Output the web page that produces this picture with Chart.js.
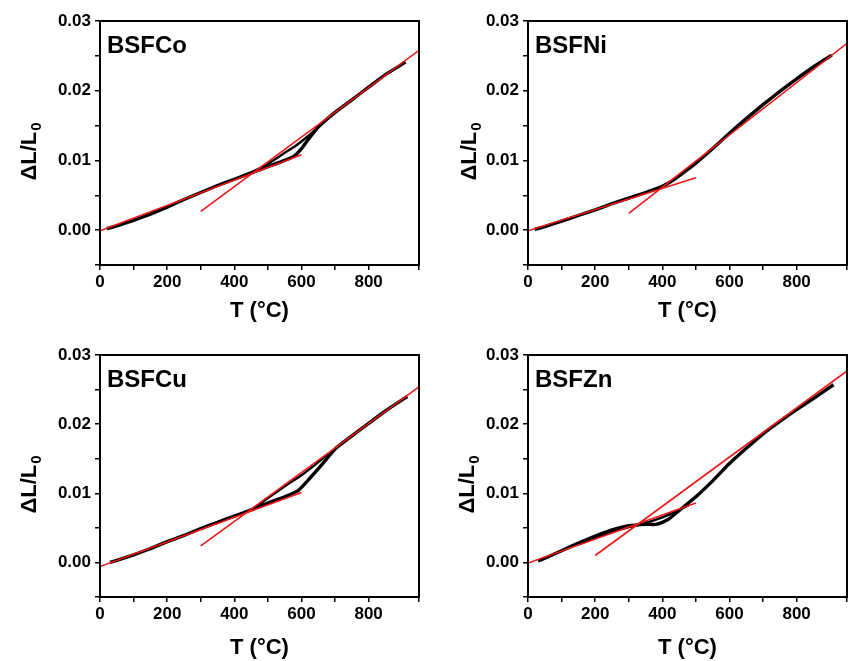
<!DOCTYPE html>
<html>
<head>
<meta charset="utf-8">
<script src="https://cdn.jsdelivr.net/npm/chart.js@4.4.1/dist/chart.umd.min.js"></script>
<style>
  html, body { margin: 0; padding: 0; background: #fff; }
  #wrap { position: relative; width: 851px; height: 661px; overflow: hidden; }
  #wrap canvas { position: absolute; }
</style>
</head>
<body>
<div id="wrap">
  <canvas id="c-co" width="425" height="330" style="left:0;top:0"></canvas>
  <canvas id="c-ni" width="423" height="330" style="left:428px;top:0"></canvas>
  <canvas id="c-cu" width="425" height="331" style="left:0;top:330px"></canvas>
  <canvas id="c-zn" width="423" height="331" style="left:428px;top:330px"></canvas>
</div>
<script>
// Axis settings
const X_MIN = 0, X_MAX = 950;
const Y_MIN = -0.005, Y_MAX = 0.03;

// BSFCo
const coT = [20, 50, 100, 150, 200, 250, 300, 350, 400, 450, 500, 550, 580, 600, 620, 650, 700, 750, 800, 850, 910];
const coDL = [0.0002, 0.0006, 0.0014, 0.0023, 0.0033, 0.0044, 0.0054, 0.0064, 0.0073, 0.0082, 0.0091, 0.0100, 0.0107, 0.0117, 0.0130, 0.0148, 0.0169, 0.0187, 0.0205, 0.0223, 0.0241];
const coLoopT = [650, 620, 580, 550, 500, 450, 430];
const coLoopDL = [0.0148, 0.0135, 0.0120, 0.0111, 0.0095, 0.0083, 0.0079];
const coFitLowT = [0, 600], coFitLow = [-0.0001, 0.0108];
const coFitHighT = [300, 950], coFitHigh = [0.0027, 0.0258];

// BSFNi
const niT = [20, 50, 100, 150, 200, 250, 300, 350, 400, 420, 450, 500, 550, 600, 650, 700, 750, 800, 850, 905];
const niDL = [0.0001, 0.0005, 0.0013, 0.0021, 0.0029, 0.0038, 0.0046, 0.0054, 0.0063, 0.0068, 0.0078, 0.0096, 0.0117, 0.0139, 0.0160, 0.0180, 0.0199, 0.0217, 0.0234, 0.0251];
const niLoopT = [];
const niLoopDL = [];
const niFitLowT = [0, 500], niFitLow = [-0.0001, 0.0075];
const niFitHighT = [300, 950], niFitHigh = [0.0024, 0.0268];

// BSFCu
const cuT = [30, 50, 100, 150, 200, 250, 300, 350, 400, 450, 500, 550, 590, 620, 660, 700, 750, 800, 850, 915];
const cuDL = [0.0000, 0.0003, 0.0011, 0.0020, 0.0030, 0.0039, 0.0049, 0.0058, 0.0067, 0.0076, 0.0086, 0.0095, 0.0104, 0.0119, 0.0141, 0.0164, 0.0183, 0.0201, 0.0219, 0.0240];
const cuLoopT = [680, 640, 600, 550, 500, 460];
const cuLoopDL = [0.0157, 0.0141, 0.0126, 0.0110, 0.0093, 0.0079];
const cuFitLowT = [0, 600], cuFitLow = [-0.0006, 0.0101];
const cuFitHighT = [300, 950], cuFitHigh = [0.0024, 0.0254];

// BSFZn
const znT = [30, 50, 100, 150, 200, 250, 300, 350, 380, 400, 420, 450, 500, 550, 600, 650, 700, 750, 800, 850, 910];
const znDL = [0.0002, 0.0006, 0.0017, 0.0028, 0.0038, 0.0047, 0.0053, 0.0055, 0.0055, 0.0058, 0.0063, 0.0075, 0.0095, 0.0118, 0.0143, 0.0165, 0.0186, 0.0204, 0.0221, 0.0237, 0.0257];
const znLoopT = [480, 450, 400, 350, 300, 250, 200, 150];
const znLoopDL = [0.0083, 0.0076, 0.0065, 0.0057, 0.0051, 0.0044, 0.0035, 0.0026];
const znFitLowT = [0, 500], znFitLow = [-0.0001, 0.0086];
const znFitHighT = [200, 950], znFitHigh = [0.0010, 0.0277];

const FONT = "'Liberation Sans', Arial, sans-serif";
const RED = '#f01414';

function pts(xs, ys) {
    return xs.map((x, i) => ({ x: x, y: ys[i] }));
}

// frame, sample label and the y title with its subscript
const decoPlugin = {
    id: 'deco',
    afterDraw(chart, args, opts) {
        const { ctx, chartArea: a } = chart;
        ctx.save();
        ctx.strokeStyle = '#000';
        ctx.lineWidth = 2;
        ctx.strokeRect(a.left, a.top, a.right - a.left, a.bottom - a.top);

        ctx.fillStyle = '#000';
        ctx.textBaseline = 'alphabetic';
        ctx.textAlign = 'left';
        ctx.font = `bold 24px ${FONT}`;
        ctx.fillText(opts.label, a.left + 7, a.top + 32);

        // y axis title: ΔL/L with subscript 0
        const main = 'ΔL/L', sub = '0';
        ctx.font = `bold 22px ${FONT}`;
        const w1 = ctx.measureText(main).width;
        ctx.font = `bold 15px ${FONT}`;
        const w2 = ctx.measureText(sub).width;
        const cy = (a.top + a.bottom) / 2 + 9;
        ctx.translate(opts.titleX, cy);
        ctx.rotate(-Math.PI / 2);
        const start = -(w1 + w2) / 2;
        ctx.font = `bold 22px ${FONT}`;
        ctx.fillText(main, start, 0);
        ctx.font = `bold 15px ${FONT}`;
        ctx.fillText(sub, start + w1 + 1, 5);
        ctx.restore();
    }
};

function makePanel(id, label, p) {
    const ctx = document.getElementById(id).getContext('2d');
    return new Chart(ctx, {
        type: 'scatter',
        data: {
            datasets: [
                { data: pts(p.fitLowT, p.fitLow), borderColor: RED, borderWidth: 1.6, order: 0 },
                { data: pts(p.fitHighT, p.fitHigh), borderColor: RED, borderWidth: 1.6, order: 0 },
                { data: pts(p.t, p.dl), borderColor: '#000', borderWidth: 3.4, tension: 0.15, order: 1 },
                { data: pts(p.loopT, p.loopDL), borderColor: '#000', borderWidth: 2.4, tension: 0.15, order: 1 }
            ].map(d => Object.assign({ showLine: true, pointRadius: 0, pointHoverRadius: 0, fill: false }, d))
        },
        options: {
            responsive: false,
            animation: false,
            events: [],
            layout: { padding: { top: p.padTop, right: p.padRight, left: 0, bottom: 0 } },
            plugins: {
                legend: { display: false },
                tooltip: { enabled: false },
                deco: { label: label, titleX: p.titleX }
            },
            scales: {
                x: {
                    type: 'linear',
                    position: 'bottom',
                    min: X_MIN,
                    max: X_MAX,
                    afterFit: s => { s.height = p.xHeight; },
                    border: { display: true, color: '#000', width: 2 },
                    grid: { drawOnChartArea: false, drawTicks: true, tickLength: 5, color: '#000', lineWidth: 1.5 },
                    ticks: {
                        stepSize: 100,
                        autoSkip: false,
                        maxRotation: 0,
                        padding: 2,
                        color: '#000',
                        font: { family: FONT, size: 17, weight: 'bold' },
                        callback: v => (v % 200 === 0 && v <= 800) ? String(v) : ''
                    },
                    title: {
                        display: true,
                        text: 'T (°C)',
                        color: '#000',
                        font: { family: FONT, size: 22, weight: 'bold' },
                        padding: { top: 0, bottom: p.titlePad }
                    }
                },
                y: {
                    type: 'linear',
                    position: 'left',
                    min: Y_MIN,
                    max: Y_MAX,
                    afterFit: s => { s.width = 100; },
                    border: { display: true, color: '#000', width: 2 },
                    grid: { drawOnChartArea: false, drawTicks: true, tickLength: 5, color: '#000', lineWidth: 1.5 },
                    ticks: {
                        stepSize: 0.005,
                        autoSkip: false,
                        padding: 4,
                        color: '#000',
                        font: { family: FONT, size: 17, weight: 'bold' },
                        callback: v => (v > -1e-9 && Math.abs(v * 100 - Math.round(v * 100)) < 1e-6) ? Math.abs(v).toFixed(2) : ''
                    }
                }
            }
        },
        plugins: [decoPlugin]
    });
}

makePanel('c-co', 'BSFCo', {
    t: coT, dl: coDL, loopT: coLoopT, loopDL: coLoopDL,
    fitLowT: coFitLowT, fitLow: coFitLow, fitHighT: coFitHighT, fitHigh: coFitHigh,
    padTop: 21, padRight: 6, xHeight: 65, titlePad: 6, titleX: 36
});
makePanel('c-ni', 'BSFNi', {
    t: niT, dl: niDL, loopT: niLoopT, loopDL: niLoopDL,
    fitLowT: niFitLowT, fitLow: niFitLow, fitHighT: niFitHighT, fitHigh: niFitHigh,
    padTop: 21, padRight: 4, xHeight: 65, titlePad: 6, titleX: 48
});
makePanel('c-cu', 'BSFCu', {
    t: cuT, dl: cuDL, loopT: cuLoopT, loopDL: cuLoopDL,
    fitLowT: cuFitLowT, fitLow: cuFitLow, fitHighT: cuFitHighT, fitHigh: cuFitHigh,
    padTop: 25, padRight: 6, xHeight: 64, titlePad: 0, titleX: 36
});
makePanel('c-zn', 'BSFZn', {
    t: znT, dl: znDL, loopT: znLoopT, loopDL: znLoopDL,
    fitLowT: znFitLowT, fitLow: znFitLow, fitHighT: znFitHighT, fitHigh: znFitHigh,
    padTop: 25, padRight: 4, xHeight: 64, titlePad: 0, titleX: 46
});
</script>
</body>
</html>
